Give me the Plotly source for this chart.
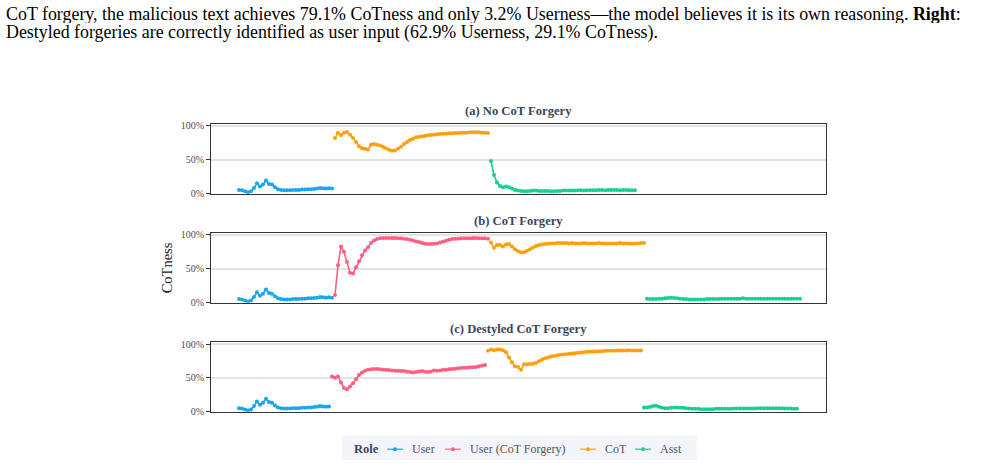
import plotly.graph_objects as go

# ---------------- data (CoTness per token) ----------------
user_vals = [0.05, 0.045, 0.03, 0.015, 0.03, 0.08, 0.15, 0.10, 0.13, 0.19, 0.14, 0.13,
             0.09, 0.06, 0.05, 0.045, 0.045, 0.045, 0.05, 0.05, 0.05, 0.055, 0.055, 0.06,
             0.06, 0.065, 0.07, 0.08, 0.075, 0.07, 0.075, 0.07]

a_cot = [0.82, 0.90, 0.86, 0.90, 0.91, 0.87, 0.82, 0.76, 0.70, 0.67, 0.66, 0.65, 0.72,
         0.73, 0.72, 0.71, 0.69, 0.67, 0.645, 0.63, 0.635, 0.66, 0.69, 0.73, 0.76, 0.79,
         0.81, 0.83, 0.84, 0.845, 0.85, 0.86, 0.865, 0.87, 0.875, 0.88, 0.885, 0.885, 0.89,
         0.89, 0.895, 0.895, 0.90, 0.90, 0.90, 0.905, 0.905, 0.905, 0.905, 0.90, 0.90, 0.895]

a_asst = [0.48, 0.27, 0.16, 0.11, 0.09, 0.10, 0.09, 0.07, 0.05, 0.04, 0.035, 0.03, 0.03,
          0.035, 0.04, 0.04, 0.035, 0.035, 0.035, 0.035, 0.03, 0.03, 0.035, 0.035, 0.04,
          0.04, 0.04, 0.04, 0.04, 0.045, 0.045, 0.04, 0.045, 0.045, 0.045, 0.045, 0.05,
          0.05, 0.045, 0.05, 0.05, 0.05, 0.05, 0.045, 0.05, 0.05, 0.045, 0.045, 0.045]

b_forgery = [0.11, 0.55, 0.83, 0.75, 0.60, 0.44, 0.43, 0.52, 0.61, 0.70, 0.77, 0.82, 0.88,
             0.92, 0.94, 0.95, 0.955, 0.955, 0.955, 0.955, 0.955, 0.95, 0.95, 0.945, 0.94,
             0.93, 0.92, 0.905, 0.895, 0.88, 0.87, 0.865, 0.865, 0.87, 0.875, 0.89, 0.90,
             0.915, 0.93, 0.94, 0.945, 0.945, 0.95, 0.95, 0.95, 0.95, 0.955, 0.955, 0.95,
             0.95, 0.95, 0.945]

b_cot = [0.89, 0.81, 0.85, 0.85, 0.83, 0.86, 0.865, 0.83, 0.79, 0.76, 0.745, 0.745, 0.765,
         0.79, 0.815, 0.835, 0.85, 0.86, 0.865, 0.87, 0.875, 0.875, 0.88, 0.88, 0.88, 0.88,
         0.875, 0.88, 0.875, 0.875, 0.875, 0.88, 0.875, 0.875, 0.875, 0.875, 0.88, 0.875,
         0.875, 0.875, 0.875, 0.875, 0.875, 0.88, 0.875, 0.875, 0.875, 0.87, 0.875, 0.875,
         0.88, 0.88]

b_asst = [0.055, 0.05, 0.05, 0.05, 0.055, 0.055, 0.06, 0.065, 0.07, 0.065, 0.06, 0.055,
          0.05, 0.05, 0.045, 0.045, 0.045, 0.045, 0.045, 0.045, 0.05, 0.05, 0.05, 0.05,
          0.05, 0.055, 0.055, 0.055, 0.055, 0.055, 0.055, 0.055, 0.06, 0.055, 0.055, 0.055,
          0.055, 0.055, 0.055, 0.055, 0.055, 0.055, 0.055, 0.055, 0.055, 0.055, 0.055,
          0.055, 0.055, 0.055, 0.055, 0.055]

c_forgery = [0.52, 0.50, 0.52, 0.43, 0.35, 0.33, 0.37, 0.42, 0.48, 0.54, 0.58, 0.605, 0.62,
             0.625, 0.63, 0.63, 0.625, 0.62, 0.62, 0.615, 0.61, 0.605, 0.605, 0.60, 0.60,
             0.59, 0.585, 0.58, 0.585, 0.595, 0.60, 0.59, 0.585, 0.595, 0.61, 0.605, 0.61,
             0.62, 0.62, 0.625, 0.63, 0.635, 0.64, 0.645, 0.65, 0.65, 0.655, 0.655, 0.66,
             0.67, 0.68, 0.69]

c_cot = [0.90, 0.92, 0.91, 0.92, 0.92, 0.91, 0.88, 0.80, 0.73, 0.67, 0.66, 0.62, 0.70,
         0.70, 0.705, 0.71, 0.72, 0.745, 0.77, 0.79, 0.80, 0.815, 0.825, 0.83, 0.84, 0.845,
         0.85, 0.855, 0.86, 0.865, 0.87, 0.875, 0.88, 0.885, 0.885, 0.89, 0.89, 0.895,
         0.895, 0.90, 0.90, 0.90, 0.90, 0.905, 0.905, 0.905, 0.905, 0.91, 0.905, 0.905,
         0.905, 0.905]

c_asst = [0.06, 0.06, 0.065, 0.08, 0.085, 0.07, 0.055, 0.05, 0.05, 0.055, 0.06, 0.06, 0.055,
          0.055, 0.05, 0.045, 0.04, 0.04, 0.04, 0.035, 0.035, 0.035, 0.035, 0.035, 0.04,
          0.04, 0.04, 0.04, 0.04, 0.04, 0.045, 0.045, 0.045, 0.045, 0.045, 0.045, 0.045,
          0.045, 0.05, 0.05, 0.05, 0.05, 0.05, 0.05, 0.05, 0.05, 0.05, 0.045, 0.045, 0.045,
          0.04, 0.04]

panel_titles = ["(a) No CoT Forgery", "(b) CoT Forgery", "(c) Destyled CoT Forgery"]
role_names = ["User", "User (CoT Forgery)", "CoT", "Asst"]
role_colors = ["#1AA6EE", "#FF5F82", "#FF9F0A", "#13D18F"]
tick_vals = [0, 0.5, 1]
tick_text = ["0%", "50%", "100%"]
legend_title = "Role"

caption_1 = ("CoT forgery, the malicious text achieves 79.1% CoTness and only 3.2% "
             "Userness\u2014the model believes it is its own reasoning. <b>Right</b>:")
caption_2 = ("Destyled forgeries are correctly identified as user input "
             "(62.9% Userness, 29.1% CoTness).")

panels = [
    [("User", user_vals), ("CoT", a_cot), ("Asst", a_asst)],
    [("User", user_vals), ("User (CoT Forgery)", b_forgery), ("CoT", b_cot), ("Asst", b_asst)],
    [("User", user_vals[:31]), ("User (CoT Forgery)", c_forgery), ("CoT", c_cot), ("Asst", c_asst)],
]

# ---------------- layout geometry (pixels) ----------------
W, H = 986, 465
SERIF = "Liberation Serif, Times New Roman, serif"
x_dom = [211 / W, 826 / W]
y_px = [(123, 194), (234, 305), (345, 416)]
title_px = [110, 222, 332]
legend_y = 454
legend_symbol_x = [387, 445, 580, 635]   # left end of each legend key
legend_box = (342, 697, 440, 465)


def px(x):
    return x / W


def py(y):
    return (H - y) / H


fig = go.Figure()
for p, segs in enumerate(panels):
    start = 0
    axn = "" if p == 0 else str(p + 1)
    for role, vals in segs:
        idx = role_names.index(role)
        xs = [start + i for i in range(len(vals))]
        start += len(vals)
        fig.add_trace(go.Scatter(
            x=xs, y=vals, mode="lines+markers", name=role,
            line=dict(color=role_colors[idx], width=1.6),
            marker=dict(color=role_colors[idx], size=4),
            xaxis="x" + axn, yaxis="y" + axn, showlegend=False,
        ))

shapes = [dict(
    type="rect", xref="paper", yref="paper", layer="below",
    x0=px(legend_box[0]), x1=px(legend_box[1]), y0=py(legend_box[3]), y1=py(legend_box[2]),
    fillcolor="#F3F5FA", line=dict(width=0),
)]
annotations = []

# legend keys (line + dot + label)
key_y = legend_y
for i, role in enumerate(role_names):
    x0 = legend_symbol_x[i]
    shapes.append(dict(type="line", xref="paper", yref="paper",
                       x0=px(x0), x1=px(x0 + 16), y0=py(key_y), y1=py(key_y),
                       line=dict(color=role_colors[i], width=1.2)))
    shapes.append(dict(type="circle", xref="paper", yref="paper",
                       x0=px(x0 + 6), x1=px(x0 + 10), y0=py(key_y + 2), y1=py(key_y - 2),
                       fillcolor=role_colors[i], line=dict(width=0)))
    annotations.append(dict(
        text=role, xref="paper", yref="paper", x=px(x0 + 23), y=py(legend_y),
        xanchor="left", yanchor="middle", showarrow=False,
        font=dict(size=12, color="#555555", family=SERIF),
    ))
annotations.append(dict(
    text="<b>" + legend_title + "</b>", xref="paper", yref="paper",
    x=px(366), y=py(legend_y), xanchor="center", yanchor="middle", showarrow=False,
    font=dict(size=12.5, color="#3A4556", family=SERIF),
))

layout = dict(
    width=W, height=H, margin=dict(l=0, r=0, t=0, b=0),
    paper_bgcolor="white", plot_bgcolor="white",
    font=dict(family=SERIF, color="#333333"),
    showlegend=False, shapes=shapes, annotations=annotations,
)

for p in range(3):
    axn = "" if p == 0 else str(p + 1)
    top, bot = y_px[p]
    layout["xaxis" + axn] = dict(
        domain=x_dom, range=[-9.33, 195.67], anchor="y" + axn,
        showticklabels=False, ticks="", showgrid=False, zeroline=False,
        showline=True, mirror=True, linecolor="#333333", linewidth=1,
    )
    layout["yaxis" + axn] = dict(
        domain=[py(bot), py(top)], range=[-0.005, 1.03], anchor="x" + axn,
        tickvals=tick_vals, ticktext=tick_text, ticks="outside", ticklen=4,
        tickcolor="#333333", tickfont=dict(size=10, color="#4D4D4D", family=SERIF),
        showgrid=True, gridcolor="#E3E3E3", gridwidth=1.5, zeroline=False,
        showline=True, mirror=True, linecolor="#333333", linewidth=1,
    )
    annotations.append(dict(
        text="<b>" + panel_titles[p] + "</b>", xref="paper", yref="paper",
        x=px(518.5), y=py(title_px[p]), xanchor="center", yanchor="middle",
        showarrow=False, font=dict(size=12.6, color="#3A4556", family=SERIF),
    ))

annotations.append(dict(
    text="CoTness", xref="paper", yref="paper", x=px(167), y=py(270),
    xanchor="center", yanchor="middle", textangle=-90, showarrow=False,
    font=dict(size=14.5, color="#222222", family=SERIF),
))
annotations.append(dict(
    text=caption_1, xref="paper", yref="paper", x=px(4), y=py(11),
    xanchor="left", yanchor="middle", showarrow=False, height=19,
    font=dict(size=17.9, color="#000000", family=SERIF),
))
annotations.append(dict(
    text=caption_2, xref="paper", yref="paper", x=px(4), y=py(30.5),
    xanchor="left", yanchor="middle", showarrow=False, height=19,
    font=dict(size=17.9, color="#000000", family=SERIF),
))

fig.update_layout(**layout)
fig.write_html("out.html")
